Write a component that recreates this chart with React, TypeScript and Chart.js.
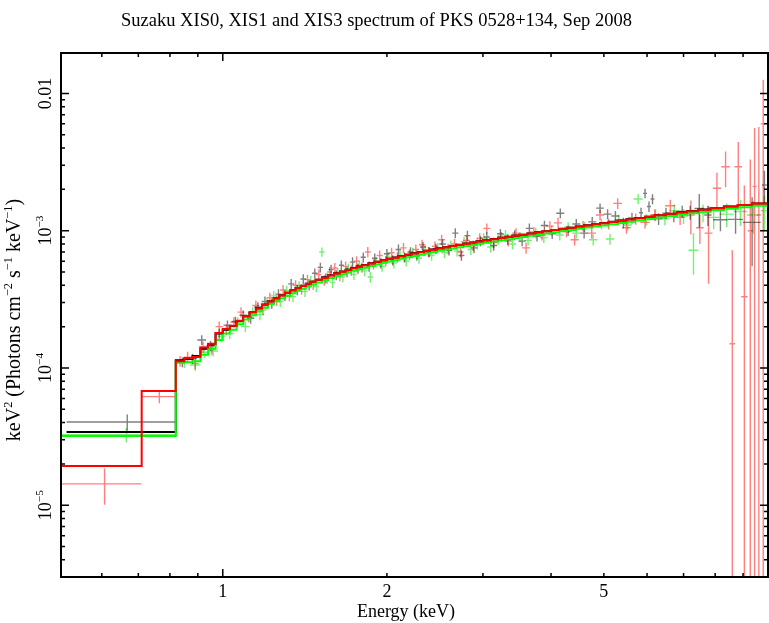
import { useEffect, useRef } from "react";
import { Chart, registerables } from "chart.js";

Chart.register(...registerables);

const SERIF = '"Liberation Serif", "DejaVu Serif", serif';

const titleText = "Suzaku XIS0, XIS1 and XIS3 spectrum of PKS 0528+134, Sep 2008";
const xAxisTitle = "Energy (keV)";
type Part = [string, boolean];
const yAxisTitle: Part[] = [
  ["keV", false], ["2", true], [" (Photons cm", false], ["\u22122", true],
  [" s", false], ["\u22121", true], [" keV", false], ["\u22121", true], [")", false],
];

const xMin = 0.505;
const xMax = 10;
const yMin = 3e-6;
const yMax = 0.0197;

const xTickMarks = [0.6, 0.7, 0.8, 0.9, 1, 2, 3, 4, 5, 6, 7, 8, 9];
const xMajorTicks = [1];
const xLabelValues = [1, 2, 5];
const xLabelTexts = ["1", "2", "5"];
const yDecades = [1e-6, 1e-5, 1e-4, 1e-3, 1e-2];
const yMultipliers = [1, 2, 3, 4, 5, 6, 7, 8, 9];
const yLabelValues = [1e-5, 1e-4, 1e-3, 0.01];
const yLabelBase = ["10", "10", "10", "0.01"];
const yLabelExp = ["\u22125", "\u22124", "\u22123", ""];

// model histogram bin edges above 0.82 keV (shared) and per-instrument bin values
const modelEdges = [0.82, 0.85, 0.88, 0.91, 0.94, 0.97, 1.0, 1.03, 1.06, 1.09, 1.12, 1.15, 1.18, 1.21, 1.24, 1.27, 1.3, 1.33, 1.36, 1.39, 1.42, 1.45, 1.48, 1.52, 1.56, 1.6, 1.64, 1.68, 1.72, 1.76, 1.8, 1.85, 1.9, 1.95, 2.0, 2.05, 2.1, 2.16, 2.22, 2.28, 2.34, 2.4, 2.47, 2.54, 2.61, 2.68, 2.76, 2.84, 2.92, 3.0, 3.1, 3.2, 3.3, 3.4, 3.5, 3.62, 3.74, 3.86, 4.0, 4.14, 4.28, 4.44, 4.6, 4.76, 4.92, 5.1, 5.3, 5.5, 5.7, 5.95, 6.2, 6.5, 6.8, 7.1, 7.45, 7.85, 8.3, 8.8, 9.35, 10.0];
const model0Low = [0.517];
const model0LowVals = [3.42e-5];
const model0Vals = [
  1.14e-4, 1.16e-4, 1.22e-4, 1.38e-4, 1.48e-4, 1.78e-4, 1.9e-4, 2.02e-4, 2.2e-4, 2.38e-4,
  2.55e-4, 2.72e-4, 2.9e-4, 3.06e-4, 3.22e-4, 3.38e-4, 3.53e-4, 3.68e-4, 3.83e-4, 3.97e-4,
  4.11e-4, 4.25e-4, 4.4e-4, 4.57e-4, 4.74e-4, 4.9e-4, 5.05e-4, 5.2e-4, 5.34e-4, 5.48e-4,
  5.63e-4, 5.79e-4, 5.95e-4, 6.1e-4, 6.24e-4, 6.38e-4, 6.53e-4, 6.69e-4, 6.84e-4, 6.99e-4,
  7.13e-4, 7.28e-4, 7.44e-4, 7.59e-4, 7.74e-4, 7.9e-4, 8.06e-4, 8.21e-4, 8.36e-4, 8.52e-4,
  8.7e-4, 8.87e-4, 9.03e-4, 9.19e-4, 9.36e-4, 9.55e-4, 9.73e-4, 9.92e-4, 1.012e-3, 1.032e-3,
  1.052e-3, 1.074e-3, 1.095e-3, 1.115e-3, 1.136e-3, 1.16e-3, 1.185e-3, 1.21e-3, 1.235e-3, 1.265e-3,
  1.295e-3, 1.33e-3, 1.36e-3, 1.39e-3, 1.425e-3, 1.46e-3, 1.5e-3, 1.54e-3, 1.58e-3,
];
const model1Low = [0.505, 0.71];
const model1LowVals = [1.93e-5, 6.8e-5];
const model1Vals = [
  1.12e-4, 1.18e-4, 1.2e-4, 1.41e-4, 1.5e-4, 1.8e-4, 1.92e-4, 2.03e-4, 2.21e-4, 2.38e-4,
  2.55e-4, 2.71e-4, 2.89e-4, 3.05e-4, 3.21e-4, 3.37e-4, 3.52e-4, 3.67e-4, 3.82e-4, 3.96e-4,
  4.1e-4, 4.24e-4, 4.39e-4, 4.55e-4, 4.72e-4, 4.88e-4, 5.03e-4, 5.18e-4, 5.32e-4, 5.46e-4,
  5.61e-4, 5.77e-4, 5.93e-4, 6.08e-4, 6.22e-4, 6.36e-4, 6.51e-4, 6.67e-4, 6.82e-4, 6.97e-4,
  7.11e-4, 7.26e-4, 7.42e-4, 7.57e-4, 7.72e-4, 7.88e-4, 8.04e-4, 8.19e-4, 8.34e-4, 8.5e-4,
  8.68e-4, 8.85e-4, 9.01e-4, 9.17e-4, 9.34e-4, 9.53e-4, 9.71e-4, 9.9e-4, 1.01e-3, 1.03e-3,
  1.05e-3, 1.072e-3, 1.093e-3, 1.113e-3, 1.134e-3, 1.158e-3, 1.183e-3, 1.208e-3, 1.233e-3, 1.263e-3,
  1.293e-3, 1.328e-3, 1.358e-3, 1.388e-3, 1.423e-3, 1.458e-3, 1.498e-3, 1.538e-3, 1.578e-3,
];
const model3Low = [0.505];
const model3LowVals = [3.2e-5];
const model3Vals = [
  1.09e-4, 1.1e-4, 1.12e-4, 1.25e-4, 1.38e-4, 1.6e-4, 1.78e-4, 1.9e-4, 2.08e-4, 2.25e-4,
  2.42e-4, 2.58e-4, 2.75e-4, 2.91e-4, 3.06e-4, 3.22e-4, 3.36e-4, 3.5e-4, 3.65e-4, 3.78e-4,
  3.92e-4, 4.05e-4, 4.2e-4, 4.36e-4, 4.52e-4, 4.67e-4, 4.82e-4, 4.96e-4, 5.1e-4, 5.23e-4,
  5.38e-4, 5.53e-4, 5.68e-4, 5.83e-4, 5.97e-4, 6.1e-4, 6.25e-4, 6.4e-4, 6.55e-4, 6.69e-4,
  6.83e-4, 6.98e-4, 7.13e-4, 7.28e-4, 7.43e-4, 7.58e-4, 7.74e-4, 7.88e-4, 8.03e-4, 8.18e-4,
  8.35e-4, 8.52e-4, 8.68e-4, 8.83e-4, 9.0e-4, 9.18e-4, 9.36e-4, 9.54e-4, 9.73e-4, 9.93e-4,
  1.012e-3, 1.033e-3, 1.054e-3, 1.073e-3, 1.093e-3, 1.116e-3, 1.14e-3, 1.164e-3, 1.188e-3, 1.217e-3,
  1.246e-3, 1.28e-3, 1.31e-3, 1.34e-3, 1.374e-3, 1.408e-3, 1.446e-3, 1.484e-3, 1.522e-3,
];

// data points: [energy, half bin width, value, error]
type Pt = [number, number, number, number];
const xis0Points: Pt[] = [
  [0.668, 0.151, 4.04e-5, 0.55e-5], [0.843, 0.02, 1.1e-4, 0.09e-4], [0.88, 0.017, 1.17e-4, 0.1e-4],
  [0.915, 0.017, 1.6e-4, 0.13e-4], [0.95, 0.017, 1.45e-4, 0.12e-4], [0.985, 0.017, 1.78e-4, 0.15e-4],
  [1.02, 0.017, 2.05e-4, 0.17e-4], [1.055, 0.017, 2.18e-4, 0.18e-4], [1.09, 0.017, 2.42e-4, 0.2e-4],
  [1.125, 0.017, 2.3e-4, 0.2e-4], [1.16, 0.017, 2.78e-4, 0.23e-4], [1.195, 0.017, 3.05e-4, 0.26e-4],
  [1.23, 0.017, 2.95e-4, 0.25e-4], [1.265, 0.017, 3.45e-4, 0.29e-4], [1.3, 0.017, 3.35e-4, 0.28e-4],
  [1.335, 0.017, 4.1e-4, 0.34e-4], [1.37, 0.017, 3.7e-4, 0.31e-4], [1.405, 0.017, 4.45e-4, 0.37e-4],
  [1.44, 0.017, 4.0e-4, 0.34e-4], [1.475, 0.017, 4.9e-4, 0.41e-4], [1.51, 0.017, 5.4e-4, 0.45e-4],
  [1.545, 0.017, 4.5e-4, 0.38e-4], [1.58, 0.017, 5.2e-4, 0.44e-4], [1.615, 0.017, 4.75e-4, 0.4e-4],
  [1.65, 0.017, 5.6e-4, 0.47e-4], [1.69, 0.02, 5.0e-4, 0.42e-4], [1.73, 0.02, 5.9e-4, 0.5e-4],
  [1.77, 0.02, 5.3e-4, 0.45e-4], [1.81, 0.02, 6.4e-4, 0.54e-4], [1.855, 0.022, 5.5e-4, 0.47e-4],
  [1.9, 0.022, 6.3e-4, 0.53e-4], [1.95, 0.025, 5.8e-4, 0.49e-4], [2.0, 0.025, 6.8e-4, 0.57e-4],
  [2.05, 0.025, 6.1e-4, 0.52e-4], [2.1, 0.025, 7.3e-4, 0.62e-4], [2.155, 0.028, 6.4e-4, 0.54e-4],
  [2.21, 0.028, 7.0e-4, 0.59e-4], [2.27, 0.03, 6.6e-4, 0.56e-4], [2.33, 0.03, 7.6e-4, 0.64e-4],
  [2.39, 0.03, 7.0e-4, 0.6e-4], [2.46, 0.035, 7.4e-4, 0.63e-4], [2.53, 0.035, 8.0e-4, 0.68e-4],
  [2.6, 0.035, 7.2e-4, 0.61e-4], [2.67, 0.035, 9.6e-4, 0.8e-4], [2.74, 0.035, 6.6e-4, 0.56e-4],
  [2.81, 0.035, 9.2e-4, 0.78e-4], [2.89, 0.04, 7.5e-4, 0.64e-4], [2.97, 0.04, 8.4e-4, 0.71e-4],
  [3.05, 0.04, 9.0e-4, 0.76e-4], [3.14, 0.045, 7.8e-4, 0.66e-4], [3.23, 0.045, 9.5e-4, 0.8e-4],
  [3.33, 0.05, 8.6e-4, 0.73e-4], [3.43, 0.05, 9.3e-4, 0.79e-4], [3.54, 0.055, 8.4e-4, 0.71e-4],
  [3.65, 0.055, 1.04e-3, 0.88e-4], [3.77, 0.06, 9.1e-4, 0.77e-4], [3.89, 0.06, 1.09e-3, 0.92e-4],
  [4.02, 0.065, 9.5e-4, 0.8e-4], [4.16, 0.07, 1.34e-3, 1.1e-4], [4.3, 0.07, 1.0e-3, 0.85e-4],
  [4.45, 0.075, 1.12e-3, 0.95e-4], [4.6, 0.075, 9.6e-4, 0.82e-4], [4.76, 0.08, 1.16e-3, 1.0e-4],
  [4.92, 0.08, 1.46e-3, 1.2e-4], [5.08, 0.085, 1.32e-3, 1.1e-4], [5.25, 0.09, 1.28e-3, 1.1e-4],
  [5.43, 0.09, 1.14e-3, 1.0e-4], [5.63, 0.1, 1.24e-3, 1.1e-4], [5.85, 0.05, 1.35e-3, 1.2e-4],
  [5.95, 0.05, 1.87e-3, 1.5e-4], [6.05, 0.05, 1.5e-3, 1.3e-4], [6.14, 0.05, 1.7e-3, 1.4e-4],
  [6.3, 0.1, 1.22e-3, 1.2e-4], [6.5, 0.1, 1.34e-3, 1.3e-4], [6.72, 0.12, 1.28e-3, 1.3e-4],
  [6.96, 0.12, 1.38e-3, 1.4e-4], [7.2, 0.12, 1.36e-3, 1.6e-4], [7.48, 0.15, 1.45e-3, 4.0e-4],
  [7.76, 0.12, 1.3e-3, 2.2e-4], [8.18, 0.25, 1.2e-3, 2.1e-4], [8.72, 0.28, 1.21e-3, 2.6e-4],
  [9.35, 0.35, 1.15e-3, 6.0e-4], [9.85, 0.1, 2.15e-3, 5.8e-4],
];
const xis1Points: Pt[] = [
  [0.607, 0.102, 1.43e-5, 0.42e-5], [0.765, 0.055, 6.18e-5, 0.65e-5], [0.835, 0.015, 1.12e-4, 0.1e-4],
  [0.862, 0.012, 1.2e-4, 0.11e-4], [0.89, 0.014, 1.08e-4, 0.1e-4], [0.92, 0.015, 1.42e-4, 0.13e-4],
  [0.955, 0.015, 1.38e-4, 0.13e-4], [0.985, 0.015, 2.0e-4, 0.18e-4], [1.015, 0.015, 1.9e-4, 0.17e-4],
  [1.048, 0.015, 2.15e-4, 0.19e-4], [1.08, 0.016, 2.55e-4, 0.22e-4], [1.115, 0.017, 2.35e-4, 0.21e-4],
  [1.15, 0.017, 2.85e-4, 0.25e-4], [1.185, 0.017, 2.65e-4, 0.23e-4], [1.22, 0.017, 3.25e-4, 0.28e-4],
  [1.255, 0.017, 3.1e-4, 0.27e-4], [1.29, 0.017, 3.7e-4, 0.32e-4], [1.325, 0.017, 3.35e-4, 0.29e-4],
  [1.36, 0.017, 4.0e-4, 0.35e-4], [1.395, 0.017, 3.75e-4, 0.33e-4], [1.43, 0.017, 4.4e-4, 0.38e-4],
  [1.465, 0.017, 4.05e-4, 0.35e-4], [1.5, 0.017, 4.8e-4, 0.42e-4], [1.535, 0.017, 4.35e-4, 0.38e-4],
  [1.57, 0.017, 5.0e-4, 0.43e-4], [1.605, 0.017, 5.35e-4, 0.46e-4], [1.64, 0.017, 4.7e-4, 0.41e-4],
  [1.68, 0.02, 5.5e-4, 0.47e-4], [1.72, 0.02, 5.15e-4, 0.45e-4], [1.76, 0.02, 6.0e-4, 0.52e-4],
  [1.8, 0.02, 5.4e-4, 0.47e-4], [1.845, 0.022, 7.0e-4, 0.6e-4], [1.89, 0.022, 5.7e-4, 0.49e-4],
  [1.94, 0.025, 6.6e-4, 0.57e-4], [1.99, 0.025, 6.0e-4, 0.52e-4], [2.04, 0.025, 6.9e-4, 0.6e-4],
  [2.09, 0.025, 6.4e-4, 0.55e-4], [2.145, 0.028, 7.5e-4, 0.65e-4], [2.2, 0.028, 6.7e-4, 0.58e-4],
  [2.26, 0.03, 7.3e-4, 0.63e-4], [2.32, 0.03, 7.9e-4, 0.68e-4], [2.385, 0.032, 7.0e-4, 0.6e-4],
  [2.45, 0.032, 7.7e-4, 0.66e-4], [2.52, 0.035, 8.6e-4, 0.74e-4], [2.59, 0.035, 7.4e-4, 0.64e-4],
  [2.66, 0.035, 8.0e-4, 0.69e-4], [2.73, 0.035, 7.0e-4, 0.61e-4], [2.8, 0.04, 8.5e-4, 0.73e-4],
  [2.88, 0.04, 7.8e-4, 0.68e-4], [2.96, 0.04, 8.8e-4, 0.76e-4], [3.05, 0.045, 1.04e-3, 0.9e-4],
  [3.14, 0.045, 8.2e-4, 0.71e-4], [3.24, 0.05, 9.0e-4, 0.78e-4], [3.34, 0.05, 8.4e-4, 0.73e-4],
  [3.45, 0.055, 9.6e-4, 0.83e-4], [3.6, 0.06, 7.5e-4, 0.7e-4], [3.72, 0.06, 9.8e-4, 0.85e-4],
  [3.85, 0.065, 9.3e-4, 0.81e-4], [3.98, 0.065, 1.08e-3, 0.94e-4], [4.12, 0.07, 1.14e-3, 1.0e-4],
  [4.27, 0.075, 9.8e-4, 0.86e-4], [4.42, 0.075, 8.6e-4, 0.8e-4], [4.58, 0.08, 1.08e-3, 0.95e-4],
  [4.75, 0.085, 9.6e-4, 0.88e-4], [4.92, 0.085, 1.3e-3, 1.15e-4], [5.1, 0.09, 1.12e-3, 1.0e-4],
  [5.3, 0.1, 1.58e-3, 1.4e-4], [5.5, 0.1, 1.05e-3, 1.0e-4], [5.72, 0.11, 1.22e-3, 1.15e-4],
  [5.95, 0.12, 1.15e-3, 1.15e-4], [6.2, 0.12, 1.3e-3, 1.3e-4], [6.62, 0.14, 1.52e-3, 1.6e-4],
  [6.9, 0.15, 1.25e-3, 1.5e-4], [7.22, 0.12, 1.3e-3, 3.6e-4], [7.5, 0.12, 1.05e-3, 2.5e-4],
  [7.78, 0.13, 9.6e-4, 5.5e-4], [8.06, 0.14, 2.04e-3, 6.0e-4], [8.36, 0.15, 2.92e-3, 8.5e-4],
  [8.6, 0.1, 1.5e-4, 5.7e-4], [8.82, 0.14, 2.92e-3, 1.5e-3], [9.05, 0.12, 3.3e-4, 1.8e-3],
  [9.28, 0.1, 1.0e-3, 2.3e-3], [9.45, 0.08, 2.1e-3, 3.5e-3], [9.62, 0.08, 1.3e-3, 4.4e-3],
  [9.8, 0.1, 6.0e-3, 6.6e-3],
];
const xis3Points: Pt[] = [
  [0.6655, 0.1605, 3.26e-5, 0.4e-5], [0.85, 0.02, 1.1e-4, 0.1e-4], [0.89, 0.02, 1.05e-4, 0.1e-4],
  [0.925, 0.015, 1.3e-4, 0.12e-4], [0.96, 0.02, 1.33e-4, 0.12e-4], [0.995, 0.015, 1.7e-4, 0.15e-4],
  [1.03, 0.02, 1.78e-4, 0.16e-4], [1.065, 0.015, 2.15e-4, 0.19e-4], [1.1, 0.02, 2.0e-4, 0.18e-4],
  [1.135, 0.015, 2.55e-4, 0.22e-4], [1.17, 0.02, 2.45e-4, 0.22e-4], [1.205, 0.015, 2.95e-4, 0.26e-4],
  [1.24, 0.017, 3.35e-4, 0.29e-4], [1.275, 0.017, 3.05e-4, 0.27e-4], [1.31, 0.017, 3.65e-4, 0.32e-4],
  [1.345, 0.017, 3.3e-4, 0.29e-4], [1.38, 0.017, 3.95e-4, 0.34e-4], [1.415, 0.017, 3.6e-4, 0.31e-4],
  [1.45, 0.017, 4.3e-4, 0.37e-4], [1.485, 0.017, 3.9e-4, 0.34e-4], [1.52, 0.017, 7.0e-4, 0.55e-4],
  [1.555, 0.017, 4.5e-4, 0.39e-4], [1.59, 0.017, 4.2e-4, 0.37e-4], [1.625, 0.017, 4.95e-4, 0.43e-4],
  [1.66, 0.017, 4.6e-4, 0.4e-4], [1.7, 0.02, 5.3e-4, 0.46e-4], [1.74, 0.02, 4.8e-4, 0.42e-4],
  [1.78, 0.02, 5.6e-4, 0.49e-4], [1.82, 0.02, 5.1e-4, 0.44e-4], [1.865, 0.022, 4.6e-4, 0.42e-4],
  [1.91, 0.022, 5.9e-4, 0.51e-4], [1.96, 0.025, 5.5e-4, 0.48e-4], [2.01, 0.025, 6.4e-4, 0.56e-4],
  [2.06, 0.025, 5.8e-4, 0.5e-4], [2.115, 0.028, 6.6e-4, 0.57e-4], [2.17, 0.028, 6.0e-4, 0.52e-4],
  [2.23, 0.03, 6.9e-4, 0.6e-4], [2.29, 0.03, 6.3e-4, 0.55e-4], [2.35, 0.03, 7.2e-4, 0.63e-4],
  [2.415, 0.032, 6.6e-4, 0.57e-4], [2.48, 0.032, 7.5e-4, 0.65e-4], [2.55, 0.035, 6.9e-4, 0.6e-4],
  [2.62, 0.035, 7.8e-4, 0.68e-4], [2.69, 0.035, 7.1e-4, 0.62e-4], [2.77, 0.04, 8.3e-4, 0.72e-4],
  [2.85, 0.04, 7.3e-4, 0.64e-4], [2.93, 0.04, 8.0e-4, 0.7e-4], [3.01, 0.045, 8.8e-4, 0.77e-4],
  [3.1, 0.045, 7.6e-4, 0.66e-4], [3.2, 0.05, 8.6e-4, 0.75e-4], [3.3, 0.05, 9.3e-4, 0.81e-4],
  [3.4, 0.05, 8.0e-4, 0.7e-4], [3.51, 0.055, 9.0e-4, 0.78e-4], [3.63, 0.06, 8.5e-4, 0.74e-4],
  [3.75, 0.06, 9.6e-4, 0.84e-4], [3.88, 0.065, 8.9e-4, 0.78e-4], [4.01, 0.065, 1.0e-3, 0.87e-4],
  [4.15, 0.07, 9.3e-4, 0.81e-4], [4.3, 0.075, 1.06e-3, 0.92e-4], [4.45, 0.075, 9.6e-4, 0.84e-4],
  [4.61, 0.08, 1.07e-3, 0.93e-4], [4.78, 0.085, 8.6e-4, 0.8e-4], [4.95, 0.085, 1.12e-3, 1.0e-4],
  [5.13, 0.09, 8.7e-4, 0.8e-4], [5.32, 0.1, 1.2e-3, 1.05e-4], [5.53, 0.1, 1.1e-3, 1.0e-4],
  [5.78, 0.11, 1.7e-3, 1.4e-4], [5.98, 0.1, 1.2e-3, 1.15e-4], [6.22, 0.12, 1.3e-3, 1.25e-4],
  [6.47, 0.13, 1.22e-3, 1.25e-4], [6.73, 0.14, 1.4e-3, 1.5e-4], [7.0, 0.14, 1.28e-3, 1.6e-4],
  [7.3, 0.15, 7.2e-4, 2.4e-4], [7.6, 0.15, 1.35e-3, 2.0e-4], [7.95, 0.2, 1.25e-3, 2.2e-4],
  [8.4, 0.25, 1.32e-3, 2.6e-4], [8.9, 0.25, 1.38e-3, 3.0e-4], [9.4, 0.25, 1.3e-3, 3.5e-4],
  [9.85, 0.15, 1.4e-3, 4.0e-4],
];

function stepPoints(lowEdges: number[], lowVals: number[], vals: number[]) {
  const edges = [...lowEdges, ...modelEdges];
  const v = [...lowVals, ...vals];
  const pts = v.map((y, i) => ({ x: edges[i], y }));
  pts.push({ x: edges[edges.length - 1], y: v[v.length - 1] });
  return pts;
}

function errData(points: Pt[]) {
  return points.map(([x, dx, y, dy]) => ({ x, y, dx, dy }));
}

function font(size: number) {
  return `${size}px ${SERIF}`;
}

function richWidth(ctx: CanvasRenderingContext2D, parts: Part[], size: number) {
  let w = 0;
  for (const [t, sup] of parts) {
    ctx.font = font(sup ? size * 0.62 : size);
    w += ctx.measureText(t).width;
  }
  return w;
}

function drawRich(ctx: CanvasRenderingContext2D, parts: Part[], x: number, y: number, size: number) {
  let cx = x;
  for (const [t, sup] of parts) {
    ctx.font = font(sup ? size * 0.62 : size);
    ctx.fillText(t, cx, sup ? y - size * 0.42 : y);
    cx += ctx.measureText(t).width;
  }
}

const errorBarPlugin = {
  id: "errorBars",
  beforeDatasetsDraw(chart: any) {
    const { ctx, chartArea: a, scales } = chart;
    const xs = scales.x;
    const ys = scales.y;
    ctx.save();
    ctx.beginPath();
    ctx.rect(a.left, a.top, a.right - a.left, a.bottom - a.top);
    ctx.clip();
    ctx.lineWidth = 1.4;
    for (const ds of chart.data.datasets) {
      if (!ds.errColor) continue;
      ctx.strokeStyle = ds.errColor;
      for (const p of ds.data) {
        const x1 = xs.getPixelForValue(p.x - p.dx);
        const x2 = xs.getPixelForValue(p.x + p.dx);
        const xc = xs.getPixelForValue(p.x);
        const yc = ys.getPixelForValue(p.y);
        const lo = p.y - p.dy;
        const yl = lo > 0 ? ys.getPixelForValue(lo) : a.bottom + 5;
        const yh = ys.getPixelForValue(p.y + p.dy);
        ctx.beginPath();
        ctx.moveTo(x1, yc);
        ctx.lineTo(x2, yc);
        ctx.moveTo(xc, yl);
        ctx.lineTo(xc, yh);
        ctx.stroke();
      }
    }
    ctx.restore();
  },
};

const framePlugin = {
  id: "frame",
  afterDraw(chart: any) {
    const { ctx, chartArea: a, scales } = chart;
    const xs = scales.x;
    const ys = scales.y;
    ctx.save();
    ctx.strokeStyle = "#000";
    ctx.fillStyle = "#000";
    ctx.lineWidth = 1.5;
    ctx.beginPath();
    for (const v of xTickMarks) {
      const px = xs.getPixelForValue(v);
      const len = xMajorTicks.includes(v) ? 8 : 4;
      ctx.moveTo(px, a.bottom);
      ctx.lineTo(px, a.bottom - len);
      ctx.moveTo(px, a.top);
      ctx.lineTo(px, a.top + len);
    }
    for (const d of yDecades) {
      for (const m of yMultipliers) {
        const v = m * d;
        if (v < yMin || v > yMax) continue;
        const py = ys.getPixelForValue(v);
        const len = m === 1 ? 8 : 4;
        ctx.moveTo(a.left, py);
        ctx.lineTo(a.left + len, py);
        ctx.moveTo(a.right, py);
        ctx.lineTo(a.right - len, py);
      }
    }
    ctx.stroke();
    ctx.lineWidth = 2;
    ctx.strokeRect(a.left, a.top, a.right - a.left, a.bottom - a.top);
    ctx.textBaseline = "alphabetic";
    ctx.textAlign = "left";
    ctx.font = font(18);
    xLabelValues.forEach((v, i) => {
      const px = xs.getPixelForValue(v);
      const w = ctx.measureText(xLabelTexts[i]).width;
      ctx.fillText(xLabelTexts[i], px - w / 2, 597);
    });
    yLabelValues.forEach((v, i) => {
      const py = ys.getPixelForValue(v);
      const parts: Part[] = [[yLabelBase[i], false]];
      if (yLabelExp[i]) parts.push([yLabelExp[i], true]);
      const w = richWidth(ctx, parts, 18);
      ctx.save();
      ctx.translate(51, py);
      ctx.rotate(-Math.PI / 2);
      drawRich(ctx, parts, -w / 2, 0, 18);
      ctx.restore();
    });
    ctx.font = font(18);
    const xw = ctx.measureText(xAxisTitle).width;
    ctx.fillText(xAxisTitle, 406 - xw / 2, 617);
    const yw = richWidth(ctx, yAxisTitle, 20);
    ctx.save();
    ctx.translate(20, 320);
    ctx.rotate(-Math.PI / 2);
    drawRich(ctx, yAxisTitle, -yw / 2, 0, 20);
    ctx.restore();
    ctx.font = font(18.5);
    const tw = ctx.measureText(titleText).width;
    ctx.fillText(titleText, 376.5 - tw / 2, 26);
    ctx.restore();
  },
};

export default function App() {
  const ref = useRef<HTMLCanvasElement>(null);
  useEffect(() => {
    const lineBase = { type: "line", pointRadius: 0, borderWidth: 2, stepped: true, fill: false, tension: 0 };
    const chart = new Chart(ref.current as HTMLCanvasElement, {
      type: "line",
      data: {
        datasets: [
          { ...lineBase, label: "XIS1 model", data: stepPoints(model1Low, model1LowVals, model1Vals), borderColor: "#ff0000" },
          { ...lineBase, label: "XIS3 model", data: stepPoints(model3Low, model3LowVals, model3Vals), borderColor: "#00ff00" },
          { ...lineBase, label: "XIS0 model", data: stepPoints(model0Low, model0LowVals, model0Vals), borderColor: "#000000" },
          { type: "scatter", label: "XIS3", data: errData(xis3Points), pointRadius: 0, showLine: false, errColor: "rgba(0,230,0,0.55)" },
          { type: "scatter", label: "XIS1", data: errData(xis1Points), pointRadius: 0, showLine: false, errColor: "rgba(255,0,0,0.5)" },
          { type: "scatter", label: "XIS0", data: errData(xis0Points), pointRadius: 0, showLine: false, errColor: "rgba(0,0,0,0.5)" },
        ] as any,
      },
      options: {
        animation: false,
        responsive: false,
        events: [],
        layout: { padding: { left: 61, right: 1, top: 53, bottom: 46 } },
        scales: {
          x: { type: "logarithmic", min: xMin, max: xMax, display: false },
          y: { type: "logarithmic", min: yMin, max: yMax, display: false },
        },
        plugins: { legend: { display: false }, tooltip: { enabled: false }, title: { display: false } },
      },
      plugins: [errorBarPlugin, framePlugin],
    } as any);
    return () => chart.destroy();
  }, []);
  return (
    <div style={{ position: "fixed", left: 0, top: 0, width: 769, height: 623, background: "#fff" }}>
      <canvas ref={ref} width={769} height={623} style={{ display: "block", width: 769, height: 623 }} />
    </div>
  );
}
